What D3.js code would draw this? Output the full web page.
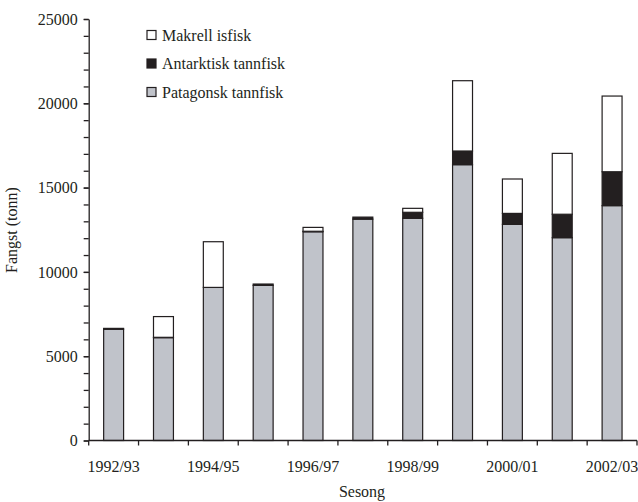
<!DOCTYPE html>
<html>
<head>
<meta charset="utf-8">
<script src="https://cdn.jsdelivr.net/npm/d3@7"></script>
<style>
  body { margin: 0; background: #fff; }
  svg { display: block; font-family: "Liberation Serif", "Times New Roman", serif; }
  .axis path, .axis line { stroke: #231f20; stroke-width: 1.3; }
  .axis text { font-family: "Liberation Serif", serif; font-size: 16px; fill: #231f20; }
  .label { font-size: 16px; fill: #231f20; }
</style>
</head>
<body>
<div id="chart"></div>
<script>
// data
const seasons = ['1992/93', '1993/94', '1994/95', '1995/96', '1996/97', '1997/98',
  '1998/99', '1999/00', '2000/01', '2001/02', '2002/03'];
const patagonsk  = [6600, 6100, 9080, 9200, 12380, 13130, 13180, 16360, 12820, 12030, 13930];
const antarktisk = [50, 20, 0, 80, 30, 120, 355, 810, 650, 1390, 2010];
const makrell    = [0, 1230, 2710, 0, 230, 0, 235, 4170, 2040, 3610, 4490];
const shownLabels = ['1992/93', '1994/95', '1996/97', '1998/99', '2000/01', '2002/03'];
const yTicks = [0, 5000, 10000, 15000, 20000, 25000];

const keys = ['patagonsk', 'antarktisk', 'makrell'];
const names = { patagonsk: 'Patagonsk tannfisk', antarktisk: 'Antarktisk tannfisk', makrell: 'Makrell isfisk' };
const colors = { patagonsk: '#c0c3ca', antarktisk: '#231f20', makrell: '#ffffff' };

const rows = seasons.map(function(s, i) {
  return { season: s, patagonsk: patagonsk[i], antarktisk: antarktisk[i], makrell: makrell[i] };
});

const W = 638, H = 502;
const x0 = 88.7, x1 = 637, yBottom = 440.5, yTop = 19;

const svg = d3.select('#chart').append('svg')
  .attr('width', W)
  .attr('height', H);

// Scales
const xScale = d3.scaleBand()
  .domain(seasons)
  .range([x0, x1])
  .paddingInner(0.6)
  .paddingOuter(0.3);

const yScale = d3.scaleLinear()
  .domain([0, 25000])
  .range([yBottom, yTop]);

// stacked bars
const stack = d3.stack().keys(keys)(rows);

svg.append('g').selectAll('g')
  .data(stack)
  .enter()
  .append('g')
  .attr('fill', function(d) { return colors[d.key]; })
  .selectAll('rect')
  .data(function(d) { return d; })
  .enter()
  .filter(function(d) { return d[1] - d[0] > 0; })
  .append('rect')
    .attr('x', function(d) { return xScale(d.data.season); })
    .attr('width', xScale.bandwidth())
    .attr('y', function(d) { return yScale(d[1]); })
    .attr('height', function(d) { return yScale(d[0]) - yScale(d[1]); })
    .attr('stroke', '#231f20')
    .attr('stroke-width', 1.2);

// y-axis minor ticks
svg.append('g')
  .attr('class', 'axis')
  .attr('transform', `translate(${ x0 }, 0)`)
  .call(d3.axisLeft(yScale).tickValues(d3.range(0, 25001, 1000)).tickSize(5).tickFormat(''))
  .call(function(g) { g.select('.domain').remove(); });

// y-axis
svg.append('g')
  .attr('class', 'axis')
  .attr('transform', `translate(${ x0 }, 0)`)
  .call(d3.axisLeft(yScale).tickValues(yTicks).tickSize(5).tickSizeOuter(0)
    .tickPadding(6).tickFormat(d3.format('d')));

// x-axis: ticks at band edges
const edges = seasons.map(function(s) { return xScale(s) - xScale.step() * 0.3; }).concat([x1]);
svg.append('g')
  .attr('class', 'axis')
  .attr('transform', `translate(0, ${ yBottom })`)
  .call(function(g) {
    g.append('line')
      .attr('x1', x0).attr('x2', x1)
      .attr('stroke', '#231f20').attr('stroke-width', 1.3);
    g.selectAll('.edge')
      .data(edges)
      .enter()
      .append('line')
      .attr('class', 'edge')
      .attr('x1', function(d) { return d; })
      .attr('x2', function(d) { return d; })
      .attr('y1', 0).attr('y2', 5)
      .attr('stroke', '#231f20').attr('stroke-width', 1.3);
    g.selectAll('.tl')
      .data(shownLabels)
      .enter()
      .append('text')
      .attr('class', 'tl')
      .attr('x', function(d) { return xScale(d) + xScale.bandwidth() / 2; })
      .attr('y', 31)
      .style('text-anchor', 'middle')
      .text(function(d) { return d; });
  });

// axis labels
svg.append('text')
  .attr('class', 'label')
  .attr('x', 362)
  .attr('y', 497)
  .style('text-anchor', 'middle')
  .text('Sesong');

svg.append('text')
  .attr('class', 'label')
  .attr('transform', 'translate(17, 230) rotate(-90)')
  .style('text-anchor', 'middle')
  .text('Fangst (tonn)');

// legend
const legend = svg.selectAll('.legend')
  .data(keys.slice().reverse())
  .enter()
  .append('g')
  .attr('class', 'legend')
  .attr('transform', function(d, i) { return `translate(147, ${ 35 + i * 28.5 })`; });

legend.append('rect')
  .attr('x', 0)
  .attr('y', -4.5)
  .attr('width', 9)
  .attr('height', 9)
  .attr('fill', function(d) { return colors[d]; })
  .attr('stroke', '#231f20')
  .attr('stroke-width', 1.2);

legend.append('text')
  .attr('class', 'label')
  .attr('x', 15)
  .attr('y', 5.5)
  .text(function(d) { return names[d]; });
</script>
</body>
</html>
